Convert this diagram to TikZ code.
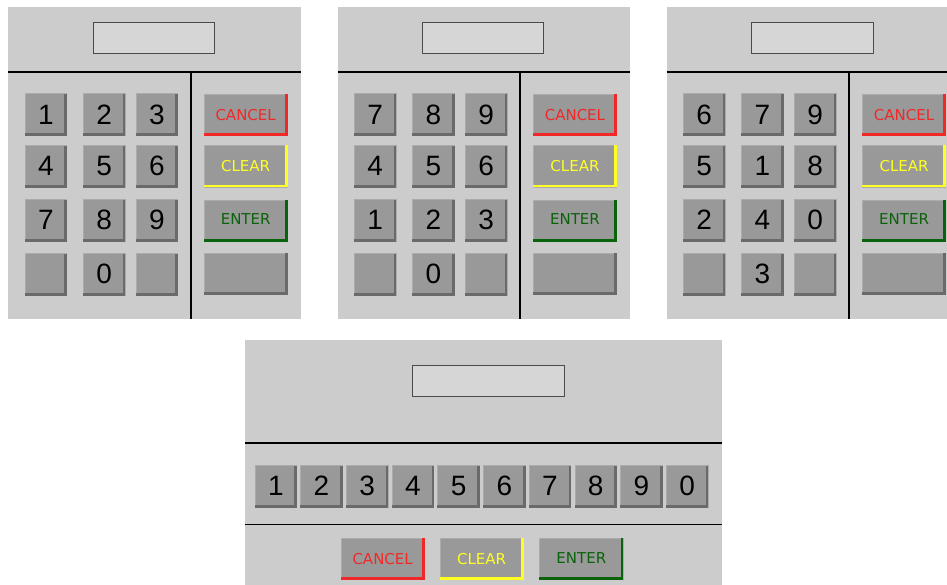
\documentclass[tikz,border=0pt]{standalone}
\usepackage{fontspec}
\setmainfont{Liberation Sans}
\newfontfamily\btnfont{DejaVu Sans}
\definecolor{panelbg}{HTML}{CCCCCC}
\definecolor{dispfill}{HTML}{D6D6D6}
\definecolor{displine}{HTML}{4A4A4A}
\definecolor{keyfill}{HTML}{999999}
\definecolor{keyedge}{HTML}{ABABAB}
\definecolor{keyshadow}{HTML}{6A6A6A}
\definecolor{cancelc}{HTML}{F02828}
\definecolor{clearc}{HTML}{FFFF22}
\definecolor{enterc}{HTML}{0A620A}
\tikzset{
  panelbox/.style={fill=panelbg, draw=none},
  display/.style={fill=dispfill, draw=displine, line width=0.9pt},
  divider/.style={draw=black, line width=1.6pt},
  keyface/.style={fill=keyfill, draw=keyedge, line width=0.8pt, inner sep=0pt,
    minimum width=41.6pt, minimum height=41.8pt,
    font=\fontsize{28}{30}\selectfont, text=black},
  btnface/.style={fill=keyfill, draw=keyedge, line width=0.8pt, inner sep=0pt,
    minimum width=83.3pt, minimum height=41.2pt,
    font=\btnfont\fontsize{15}{17}\selectfont},
}
% key: name, left x, top y, label
\newcommand\kbkey[4]{%
  \node[keyface] (#1) at ({#2+20.8},{#3+20.9}) {#4};
  \fill[keyshadow] (#1.north east) ++(-2.6,1) rectangle (#1.south east);
  \fill[keyshadow] (#1.south west) ++(0,-2.6) rectangle (#1.south east);
}
% button: name, left x, top y, label, colour
\newcommand\kbbtn[5]{%
  \node[btnface, text=#5] (#1) at ({#2+41.65},{#3+20.6}) {#4};
  \fill[#5] (#1.north east) ++(-2.7,0) rectangle (#1.south east);
  \fill[#5] (#1.south west) ++(0,-2.7) rectangle (#1.south east);
}
% row of three keys: prefix, panel x, top y, labels
\newcommand\kbrow[6]{%
  \kbkey{#1a}{#2+16.7}{#3}{#4}
  \kbkey{#1b}{#2+75}{#3}{#5}
  \kbkey{#1c}{#2+127.7}{#3}{#6}
}
% panel: id, x
\newcommand\kbpanel[2]{%
  \fill[panelbox] (#2,7.3) rectangle ({#2+292.7},319);
  \draw[display] ({#2+84.8},22.7) rectangle ({#2+206.3},53.3);
  \draw[divider] (#2,72) -- ({#2+292.7},72);
  \draw[divider] ({#2+182.4},72) -- ({#2+182.4},319);
  \kbbtn{#1can}{#2+195.7}{94.3}{CANCEL}{cancelc}
  \kbbtn{#1clr}{#2+195.7}{145.7}{CLEAR}{clearc}
  \kbbtn{#1ent}{#2+195.7}{200}{\raisebox{3pt}{ENTER}}{enterc}
  \kbbtn{#1blk}{#2+195.7}{253.3}{}{keyshadow}
}
\begin{document}
\begin{tikzpicture}[x=1pt,y=-1pt]
\useasboundingbox (0,0) rectangle (947,584);
\clip (0,0) rectangle (947,584);
\fill[white] (0,0) rectangle (947,584);
% panel 1
\kbpanel{pa}{8.3}
\kbrow{pa1}{8.3}{93.7}{1}{2}{3}
\kbrow{pa2}{8.3}{145.3}{4}{5}{6}
\kbrow{pa3}{8.3}{199.3}{7}{8}{9}
\kbrow{pa4}{8.3}{253.3}{}{0}{}
% panel 2
\kbpanel{pb}{337.6}
\kbrow{pb1}{337.6}{93.7}{7}{8}{9}
\kbrow{pb2}{337.6}{145.3}{4}{5}{6}
\kbrow{pb3}{337.6}{199.3}{1}{2}{3}
\kbrow{pb4}{337.6}{253.3}{}{0}{}
% panel 3
\kbpanel{pc}{666.7}
\kbrow{pc1}{666.7}{93.7}{6}{7}{9}
\kbrow{pc2}{666.7}{145.3}{5}{1}{8}
\kbrow{pc3}{666.7}{199.3}{2}{4}{0}
\kbrow{pc4}{666.7}{253.3}{}{3}{}
% bottom panel
\fill[panelbox] (245,340) rectangle (722.3,590);
\draw[display] (412.3,365.3) rectangle (564.7,396);
\draw[divider] (245,442.7) -- (722.3,442.7);
\draw[divider] (245,524.3) -- (722.3,524.3);
\foreach \lab [count=\i from 0] in {1,2,3,4,5,6,7,8,9,0} {
  \kbkey{pd\i}{255+45.7*\i}{465.3}{\lab}
}
\kbbtn{pdcan}{341}{538.3}{CANCEL}{cancelc}
\kbbtn{pdclr}{440}{538.3}{CLEAR}{clearc}
\kbbtn{pdent}{539.7}{538.3}{\raisebox{2.5pt}{ENTER}}{enterc}
\end{tikzpicture}
\end{document}
